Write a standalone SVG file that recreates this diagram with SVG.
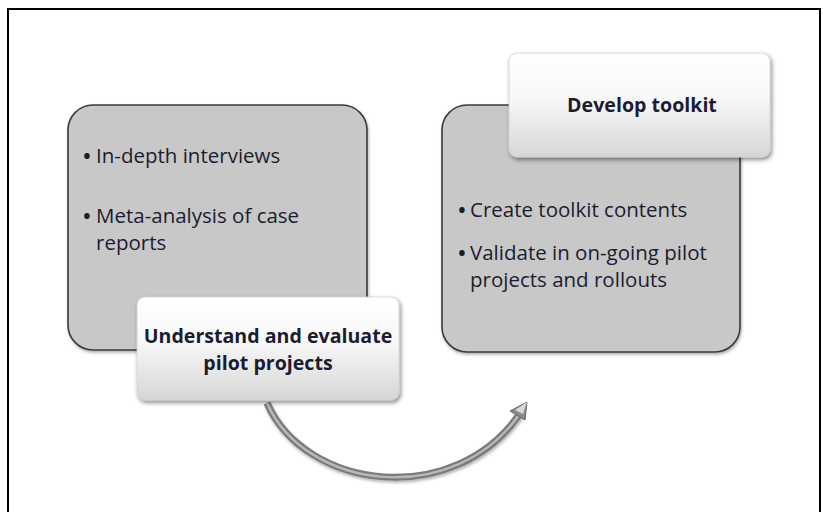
<svg xmlns="http://www.w3.org/2000/svg" width="823" height="512" viewBox="0 0 823 512">
<style>
.big{fill:#c8c8c8;stroke:#3a3a3a;stroke-width:1.6}
.hdr{fill:url(#wg);stroke:#d0d0d0;stroke-width:0.8}
.t{font-family:"Open Sans",Lato,sans-serif;font-size:20.5px;fill:#1c1c30}
.u{font-family:"Open Sans",Lato,sans-serif;font-size:26px;fill:#1c1c30}
.b{font-family:"Open Sans",Lato,sans-serif;font-size:19.6px;font-weight:bold;fill:#1c1c30;text-anchor:middle}
</style>
<defs>
<linearGradient id="wg" x1="0" y1="0" x2="0" y2="1">
<stop offset="0" stop-color="#ffffff"/>
<stop offset="0.45" stop-color="#f7f7f7"/>
<stop offset="1" stop-color="#d6d6d6"/>
</linearGradient>
<filter id="sh" x="-10%" y="-10%" width="125%" height="130%">
<feDropShadow dx="1.5" dy="2.5" stdDeviation="2" flood-color="#000" flood-opacity="0.45"/>
</filter>
<filter id="sh2" x="-10%" y="-10%" width="125%" height="130%">
<feDropShadow dx="1" dy="2" stdDeviation="1.5" flood-color="#000" flood-opacity="0.3"/>
</filter>
</defs>
<path d="M8,512 V9 H820 V512" fill="none" stroke="#000" stroke-width="2"/>

<g id="connectors">
<path d="M267,403 C305,490 455,510 521,412" fill="none" stroke="#7a7a7a" stroke-width="7" filter="url(#sh2)"/>
<path d="M267,403 C305,490 455,510 521,412" fill="none" stroke="#b8b8b8" stroke-width="2.5"/>
<polygon points="527,402 510,411 525,420" fill="#8a8a8a" stroke="#6a6a6a" stroke-width="1" stroke-linejoin="round"/>
<polygon points="527,402 515,410 523,414" fill="#d8d8d8"/>
</g>

<g id="understand-panel">
<rect class="big" x="68" y="105" width="299" height="245" rx="25" filter="url(#sh2)"/>
<text class="u" x="82" y="165">•</text>
<text class="t" x="96" y="163">In-depth interviews</text>
<text class="u" x="82" y="225">•</text>
<text class="t" x="96" y="223">Meta-analysis of case</text>
<text class="t" x="96" y="250">reports</text>
</g>

<g id="understand-header">
<rect class="hdr" x="137" y="297" width="262" height="103" rx="8" filter="url(#sh)"/>
<text class="b" x="268" y="343">Understand and evaluate</text>
<text class="b" x="268" y="370">pilot projects</text>
</g>

<g id="develop-panel">
<rect class="big" x="442" y="105" width="298" height="247" rx="25" filter="url(#sh2)"/>
<text class="u" x="457" y="219">•</text>
<text class="t" x="470" y="217">Create toolkit contents</text>
<text class="u" x="457" y="262">•</text>
<text class="t" x="470" y="260">Validate in on-going pilot</text>
<text class="t" x="470" y="287">projects and rollouts</text>
</g>

<g id="develop-header">
<rect class="hdr" x="509" y="53" width="261" height="104" rx="8" filter="url(#sh)"/>
<text class="b" x="642" y="112">Develop toolkit</text>
</g>
</svg>
